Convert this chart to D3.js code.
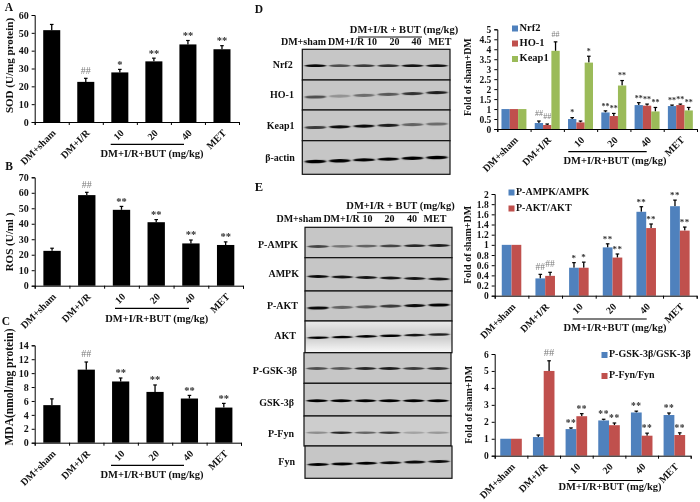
<!DOCTYPE html>
<html><head><meta charset="utf-8">
<script src="https://cdn.jsdelivr.net/npm/d3@7/dist/d3.min.js"></script>
<style>html,body{margin:0;padding:0;background:#fff}svg{display:block;filter:blur(.35px)}text{font-family:"Liberation Serif",serif;font-weight:bold;fill:#111}</style>
</head><body><svg id="c" width="700" height="502"></svg>
<script>
const categories = ["DM+sham","DM+I/R","10","20","40","MET"];
const groupLabel = "DM+I/R+BUT (mg/kg)";
const blotHeader = "DM+I/R + BUT (mg/kg)";

const sodValues = [51.5,22.5,27.8,34,43.5,40.8];
const sodErrors = [3.2,2,1.7,1.8,2.2,2];
const sodMarks  = ["","##","*","**","**","**"];
const sodTicks  = [0,10,20,30,40,50,60];

const rosValues = [22.5,58.5,49,41,27.3,26.3];
const rosErrors = [1.7,1.8,2.2,1.7,2.2,2];
const rosMarks  = ["","##","**","**","**","**"];
const rosTicks  = [0,10,20,30,40,50,60,70];

const mdaValues = [5.4,10.5,8.8,7.3,6.35,5.05];
const mdaErrors = [.9,1.1,.5,1,.45,.6];
const mdaMarks  = ["","##","**","**","**","**"];
const mdaTicks  = [0,2,4,6,8,10,12,14];

const nrf2Values  = [1,.3,.5,.83,1.2,1.15];
const nrf2Errors  = [0,.1,.07,.08,.12,.05];
const nrf2Marks   = ["","##","*","**","**","**"];
const ho1Values   = [1,.2,.33,.65,1.17,1.2];
const ho1Errors   = [0,.05,.07,.13,.08,.05];
const ho1Marks    = ["","##","","**","**","**"];
const keap1Values = [1,3.92,3.33,2.18,.88,.93];
const keap1Errors = [0,.45,.32,.25,.2,.15];
const keap1Marks  = ["","##","*","**","**","**"];
const foldTicksD  = [0,.5,1,1.5,2,2.5,3,3.5,4,4.5,5];

const ampkValues = [1,.34,.55,.95,1.65,1.76];
const ampkErrors = [0,.08,.1,.07,.1,.12];
const ampkMarks  = ["","##","*","**","**","**"];
const aktValues  = [1,.39,.55,.75,1.33,1.28];
const aktErrors  = [0,.07,.11,.07,.08,.07];
const aktMarks   = ["","##","*","**","**","**"];
const foldTicksE1 = [0,.2,.4,.6,.8,1,1.2,1.4,1.6,1.8,2];

const gskValues = [1,1.1,1.57,2.08,2.55,2.4];
const gskErrors = [0,.12,.07,.07,.08,.12];
const gskMarks  = ["","","**","**","**","**"];
const fynValues = [1,5,2.33,1.8,1.18,1.22];
const fynErrors = [0,.6,.15,.13,.15,.13];
const fynMarks  = ["","##","**","**","**","**"];
const foldTicksE2 = [0,1,2,3,4,5,6];

// western-blot band strengths, one per lane
const bandNrf2  = [.95,.6,.7,.75,.9,.9];
const bandHo1   = [.6,.25,.45,.55,.75,.85];
const bandKeap1 = [.7,.95,.95,.85,.5,.45];
const bandActin = [1,1,1,1,1,1];
const bandPAmpk = [.65,.4,.5,.65,.8,.85];
const bandAmpk  = [.95,.9,.9,.9,.9,.9];
const bandPAkt  = [.95,.5,.55,.7,.95,1];
const bandAkt   = [1,1,1,1,.9,.85];
const bandPGsk  = [.6,.55,.8,.85,.7,.75];
const bandGsk   = [1,1,1,1,1,1];
const bandPFyn  = [.3,.8,.5,.7,.2,.25];
const bandFyn   = [1,1,1,.95,.95,.95];

const BLUE="#4f81bd",RED="#c0504d",GREEN="#9bbb59";
const svg=d3.select("#c");
const defs=svg.append("defs");
defs.append("filter").attr("id","soft").attr("x","-20%").attr("y","-200%").attr("width","140%").attr("height","500%")
  .append("feGaussianBlur").attr("stdDeviation","0.9 0.6");
const g1=defs.append("linearGradient").attr("id","aktBg").attr("x1",0).attr("x2",0).attr("y1",0).attr("y2",1);
[[0,"#ededed"],[.3,"#d6d6d6"],[.55,"#d0d0d0"],[.85,"#ececec"],[1,"#f8f8f8"]].forEach(s=>g1.append("stop").attr("offset",s[0]).attr("stop-color",s[1]));

function txt(x,y,s,size,anchor,fill){
  return svg.append("text").attr("x",x).attr("y",y).attr("font-size",size)
    .attr("text-anchor",anchor||"middle").attr("dominant-baseline","middle").style("fill",fill||"#111").text(s);
}

function chart(o){
  const n=categories.length;
  const y=d3.scaleLinear().domain([o.ticks[0],o.ticks[o.ticks.length-1]]).range([o.y0,o.y1]);
  const band=d3.scaleBand().domain(categories).range([o.x0,o.x1]);
  const pos=d3.scaleLinear().domain([0,n]).range([o.x0,o.x1]);
  const g=svg.append("g");
  const inner=d3.scaleBand().domain(o.series.map((s,i)=>i)).range([0,band.bandwidth()*o.fill]);
  const off=band.bandwidth()*(1-o.fill)/2;
  o.series.forEach((s,i)=>{
    const bx=c=>band(c)+off+inner(i);
    const w=inner.bandwidth();
    categories.forEach((c,j)=>{
      const v=s.values[j],e=s.errors[j];
      if(e>0){
        const cx=bx(c)+w/2;
        g.append("line").attr("x1",cx).attr("x2",cx).attr("y1",y(v)).attr("y2",y(v+e)).attr("stroke","#000").attr("stroke-width",1.3);
        g.append("line").attr("x1",cx-1.8).attr("x2",cx+1.8).attr("y1",y(v+e)).attr("y2",y(v+e)).attr("stroke","#000").attr("stroke-width",1.2);
      }
      g.append("rect").attr("x",bx(c)).attr("y",y(v)).attr("width",w).attr("height",y(0)-y(v)).attr("fill",s.color);
      const m=s.marks[j];
      if(m){
        const hash=m==="##";
        txt(bx(c)+w/2,y(v+e)-(hash?7:4),m,hash?o.hashSize:o.markSize,"middle",hash?"#7c7c7c":"#333")
          .style("font-weight",hash?"normal":"bold").style("letter-spacing",hash?null:(o.markSpacing||0)+"px");
      }
    });
  });
  const ax=g.append("g").attr("transform",`translate(${o.x0},0)`).call(d3.axisLeft(y).tickValues(o.ticks).tickSize(3).tickPadding(3).tickFormat(d=>d));
  ax.selectAll("text").attr("font-size",o.tickSize).style("font-family",'"Liberation Serif",serif');
  ax.selectAll("path,line").attr("stroke","#000").attr("stroke-width",1);
  const bx=g.append("g").attr("transform",`translate(0,${o.y0})`).call(d3.axisBottom(pos).tickValues(d3.range(n+1)).tickSize(3).tickFormat(""));
  bx.selectAll("path,line").attr("stroke","#000").attr("stroke-width",1);
  categories.forEach(c=>{
    const cx=band(c)+band.bandwidth()/2+3, cy=o.y0+10;
    svg.append("text").attr("transform",`translate(${cx},${cy}) rotate(-45)`).attr("font-size",o.catSize).attr("text-anchor","end").attr("dominant-baseline","middle").text(c);
  });
  const ly=(o.y0+o.y1)/2+(o.yLabelShift||0);
  txt(o.yLabelX,ly,o.yLabel,o.yLabelSize).attr("transform",`rotate(-90 ${o.yLabelX} ${ly})`);
  svg.append("line").attr("x1",o.lineX[0]).attr("x2",o.lineX[1]).attr("y1",o.lineY).attr("y2",o.lineY).attr("stroke","#000").attr("stroke-width",1.2);
  txt(o.groupX,o.groupY,groupLabel,o.groupSize);
  (o.legend||[]).forEach(l=>{
    svg.append("rect").attr("x",l.x).attr("y",l.y-3).attr("width",6).attr("height",6).attr("fill",l.color);
    txt(l.x+7.5,l.y,l.label,l.size,"start");
  });
}

chart({x0:34.7,x1:239,y0:122,y1:15,ticks:sodTicks,fill:.5,series:[{values:sodValues,errors:sodErrors,marks:sodMarks,color:"#000"}],
  tickSize:10,catSize:10,markSize:10.5,hashSize:10,yLabel:"SOD (U/mg protein)",yLabelX:10,yLabelSize:11,yLabelShift:-3,lineX:[110.7,184],lineY:144.3,groupX:152,groupY:155,groupSize:10.5});
chart({x0:34.7,x1:243,y0:285.7,y1:177.3,ticks:rosTicks,fill:.5,series:[{values:rosValues,errors:rosErrors,marks:rosMarks,color:"#000"}],
  tickSize:10,catSize:10,markSize:10.5,hashSize:10,yLabel:"ROS (U/ml )",yLabelX:10,yLabelSize:11,yLabelShift:10.5,lineX:[115,189],lineY:308.3,groupX:156.7,groupY:319.3,groupSize:10.5});
chart({x0:34.7,x1:241,y0:442.7,y1:345.3,ticks:mdaTicks,fill:.5,series:[{values:mdaValues,errors:mdaErrors,marks:mdaMarks,color:"#000"}],
  tickSize:10,catSize:10,markSize:10.5,hashSize:10,yLabel:"MDA(nmol/mg protein)",yLabelX:10,yLabelSize:11.5,yLabelShift:-7,lineX:[111,184],lineY:465.3,groupX:152,groupY:475.7,groupSize:10.5});

chart({x0:497.3,x1:697,y0:129,y1:29.3,ticks:foldTicksD,fill:.75,series:[
   {values:nrf2Values,errors:nrf2Errors,marks:nrf2Marks,color:BLUE},
   {values:ho1Values,errors:ho1Errors,marks:ho1Marks,color:RED},
   {values:keap1Values,errors:keap1Errors,marks:keap1Marks,color:GREEN}],
  tickSize:9.5,catSize:10,markSize:8,markSpacing:0,hashSize:8,yLabel:"Fold of sham+DM",yLabelX:469,yLabelSize:10,yLabelShift:-2,lineX:[568.3,646.7],lineY:151.7,groupX:615,groupY:161.7,groupSize:10.5,
  legend:[{x:512,y:28.5,color:BLUE,label:"Nrf2",size:10.5},{x:512,y:43.5,color:RED,label:"HO-1",size:10.5},{x:512,y:59,color:GREEN,label:"Keap1",size:10.5}]});

chart({x0:494.7,x1:696.7,y0:295.7,y1:194,ticks:foldTicksE1,fill:.58,series:[
   {values:ampkValues,errors:ampkErrors,marks:ampkMarks,color:BLUE},
   {values:aktValues,errors:aktErrors,marks:aktMarks,color:RED}],
  tickSize:9.5,catSize:10,markSize:9,markSpacing:.4,hashSize:9.5,yLabel:"Fold of sham+DM",yLabelX:469,yLabelSize:10,yLabelShift:0,lineX:[572.7,646.7],lineY:319,groupX:615,groupY:329,groupSize:10.5,
  legend:[{x:508.5,y:192.5,color:BLUE,label:"P-AMPK/AMPK",size:10},{x:508.5,y:208.5,color:RED,label:"P-AKT/AKT",size:10}]});

chart({x0:494.7,x1:690.7,y0:455.7,y1:354,ticks:foldTicksE2,fill:.66,series:[
   {values:gskValues,errors:gskErrors,marks:gskMarks,color:BLUE},
   {values:fynValues,errors:fynErrors,marks:fynMarks,color:RED}],
  tickSize:9.5,catSize:10,markSize:9.5,markSpacing:.6,hashSize:10.5,yLabel:"Fold of sham+DM",yLabelX:470,yLabelSize:10,yLabelShift:0,lineX:[568.3,642.7],lineY:480.5,groupX:610,groupY:488,groupSize:10.5,
  legend:[{x:601.5,y:355,color:BLUE,label:"P-GSK-3β/GSK-3β",size:10},{x:601.5,y:376,color:RED,label:"P-Fyn/Fyn",size:10}]});

function blot(b){
  const lanes=d3.scaleBand().domain(categories).range([b.x0+1,b.x1-1]);
  const yTop=b.top, yBot=b.bottom;
  svg.append("rect").attr("x",b.x0).attr("y",yTop).attr("width",b.x1-b.x0).attr("height",yBot-yTop).attr("fill",b.bg||"#c6c6c6");
  const ys=d3.scaleLinear().domain([0,categories.length-1]).range([b.bandY,b.bandYEnd===undefined?b.bandY:b.bandYEnd]);
  categories.forEach((c,i)=>{
    const cx=lanes(c)+lanes.bandwidth()/2;
    const tilt=(b.bandYEnd===undefined?0:(b.bandYEnd-b.bandY)/categories.length);
    svg.append("ellipse").attr("cx",cx).attr("cy",ys(i)).attr("rx",lanes.bandwidth()*.45).attr("ry",b.ry||1.5)
      .attr("fill","#000").attr("opacity",b.bands[i]).attr("filter","url(#soft)")
      .attr("transform",`rotate(${Math.atan2(tilt,24)*57.3*.6} ${cx} ${ys(i)})`);
  });
  svg.append("rect").attr("x",b.x0).attr("y",yTop).attr("width",b.x1-b.x0).attr("height",yBot-yTop).attr("fill","none").attr("stroke","#111").attr("stroke-width",1.2);
  txt(b.labelX,b.labelY,b.label,10,b.labelAnchor||"middle");
}
[
 {label:"Nrf2",bands:bandNrf2,top:49.3,bottom:80,bandY:65.7,labelX:282.7,labelY:66,ry:1.4},
 {label:"HO-1",bands:bandHo1,top:80,bottom:110,bandY:97,bandYEnd:92.7,labelX:282,labelY:96,ry:1.6},
 {label:"Keap1",bands:bandKeap1,top:110,bottom:140.7,bandY:127.5,bandYEnd:124,labelX:280.7,labelY:127,ry:1.6},
 {label:"β-actin",bands:bandActin,top:140.7,bottom:174.3,bandY:161.5,bandYEnd:157.5,labelX:280,labelY:159,ry:1.7}
].forEach(b=>blot(Object.assign({x0:302.3,x1:450},b)));
[
 {label:"P-AMPK",bands:bandPAmpk,top:227.3,bottom:257.7,bandY:246.5,bandYEnd:245.5,labelX:298,labelY:246,ry:1.4},
 {label:"AMPK",bands:bandAmpk,top:257.7,bottom:291,bandY:276.5,bandYEnd:279,labelX:299,labelY:275,ry:1.4},
 {label:"P-AKT",bands:bandPAkt,top:291,bottom:321,bandY:308,bandYEnd:305,labelX:298,labelY:307,ry:1.6},
 {label:"AKT",bands:bandAkt,top:321,bottom:352.7,bandY:337.7,bandYEnd:334.5,labelX:296,labelY:337,ry:1.3,bg:"url(#aktBg)"},
 {label:"P-GSK-3β",bands:bandPGsk,top:352.7,bottom:383.3,bandY:368.5,labelX:297,labelY:372,ry:1.5,shift:-1},
 {label:"GSK-3β",bands:bandGsk,top:383.3,bottom:416,bandY:400.7,labelX:294,labelY:404,ry:1.5,shift:-1},
 {label:"P-Fyn",bands:bandPFyn,top:416,bottom:446,bandY:432.7,labelX:294,labelY:435,ry:1.3,bg:"#cdcdcd",shift:-1},
 {label:"Fyn",bands:bandFyn,top:446,bottom:478.3,bandY:464.5,bandYEnd:461.5,labelX:295,labelY:463,ry:1.5}
].forEach(b=>blot(Object.assign({x0:305+(b.shift||0),x1:452+(b.shift||0),labelAnchor:"end"},b)));

// blot headers
txt(404,30.5,blotHeader,10.5);
svg.append("line").attr("x1",358).attr("x2",422).attr("y1",37).attr("y2",37).attr("stroke","#111").attr("stroke-width",1);
const headD=[303.5,346,372,394.5,416.5,440];
categories.forEach((c,i)=>txt(headD[i],42.8,c,10));
txt(400.5,206.5,blotHeader,10.5);
svg.append("line").attr("x1",357).attr("x2",419).attr("y1",212.7).attr("y2",212.7).attr("stroke","#111").attr("stroke-width",1);
const headE=[299,341.5,367.5,389.5,412,435];
categories.forEach((c,i)=>txt(headE[i],220,c,10));

// panel letters
[["A",9,8],["B",9,167],["C",6,322],["D",259,10],["E",259,188]].forEach(p=>txt(p[1],p[2],p[0],p[0]==="E"?12.5:11.5));
</script></body></html>
